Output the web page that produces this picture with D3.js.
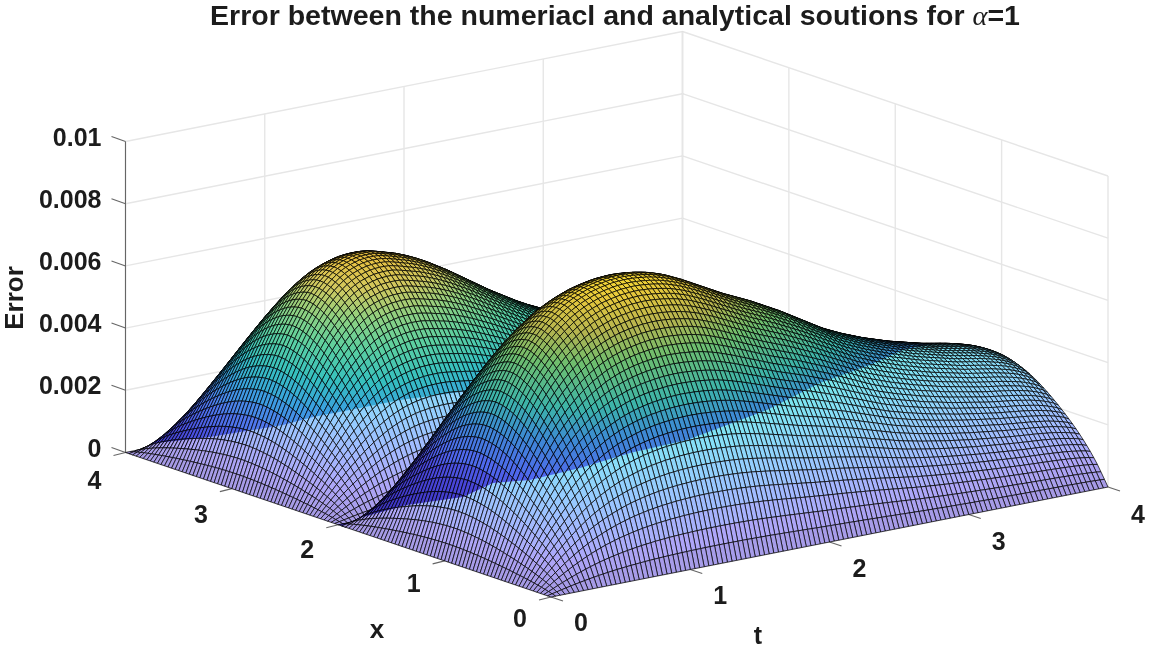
<!DOCTYPE html>
<html>
<head>
<meta charset="utf-8">
<script src="https://cdn.jsdelivr.net/npm/d3@7"></script>
<style>
  html, body { margin: 0; background: #fff; }
  svg { display: block; filter: blur(0.3px); }
  text { font-family: "Liberation Sans", Arial, sans-serif; font-weight: bold; fill: #1c1c1c; }
</style>
</head>
<body>
<svg id="chart" width="1149" height="650"></svg>
<script>
'use strict';

var xTicks = [0, 1, 2, 3, 4]
var tTicks = [0, 1, 2, 3, 4]
var zTicks = [0, 0.002, 0.004, 0.006, 0.008, 0.01]
var zTickLabels = ['0', '0.002', '0.004', '0.006', '0.008', '0.01']

// relative height across one hump, x = 0..2 in steps of 1/30 (the x = 2..4 hump mirrors it)
var humpShape = [
    0, .068, .135, .200, .258, .312, .362, .410, .455, .498, .538, .577, .614, .650, .685, .718,
    .750, .781, .810, .838, .864, .888, .910, .930, .947, .962, .975, .985, .993, .998, 1,
    .998, .993, .985, .975, .962, .947, .930, .910, .888, .864, .838, .810, .781, .750, .718,
    .685, .650, .614, .577, .538, .498, .455, .410, .362, .312, .258, .200, .135, .068, 0
]

// crest height in units of 0.001, t = 0..4 in steps of 1/30
var frontCrest = [
    0, .50, 1.00, 1.50, 1.98, 2.44, 2.88, 3.30, 3.70, 4.08, 4.44, 4.78, 5.10, 5.40, 5.67, 5.92,
    6.15, 6.36, 6.56, 6.74, 6.91, 7.06, 7.20, 7.32, 7.44, 7.54, 7.63, 7.71, 7.78, 7.84, 7.90,
    7.94, 7.98, 8.01, 8.04, 8.06, 8.07, 8.08, 8.08, 8.07, 8.06, 8.04, 8.02, 7.99, 7.96, 7.92,
    7.87, 7.82, 7.76, 7.69, 7.62, 7.55, 7.47, 7.39, 7.31, 7.23, 7.15, 7.07, 6.99, 6.91, 6.83,
    6.76, 6.69, 6.62, 6.55, 6.48, 6.41, 6.33, 6.25, 6.17, 6.09, 6.01, 5.93, 5.84, 5.75, 5.66,
    5.57, 5.48, 5.39, 5.30, 5.21, 5.12, 5.04, 4.97, 4.90, 4.83, 4.76, 4.70, 4.64, 4.58, 4.52,
    4.46, 4.41, 4.36, 4.31, 4.26, 4.21, 4.16, 4.12, 4.08, 4.04, 4.00, 3.96, 3.92, 3.88, 3.84,
    3.81, 3.78, 3.75, 3.72, 3.69, 3.66, 3.62, 3.58, 3.54, 3.49, 3.43, 3.36, 3.28, 3.19, 3.05
]
var backCrest = [
    0, .44, .88, 1.31, 1.73, 2.14, 2.54, 2.92, 3.28, 3.62, 3.96, 4.28, 4.58, 4.86, 5.12, 5.36,
    5.58, 5.78, 5.96, 6.12, 6.26, 6.38, 6.48, 6.56, 6.62, 6.67, 6.71, 6.73, 6.74, 6.74, 6.73,
    6.70, 6.66, 6.62, 6.57, 6.53, 6.48, 6.42, 6.36, 6.29, 6.22, 6.14, 6.06, 5.97, 5.88, 5.79,
    5.70, 5.60, 5.50, 5.40, 5.30, 5.20, 5.10, 5.00, 4.90, 4.80, 4.71, 4.62, 4.53, 4.44, 4.35,
    4.26, 4.18, 4.10, 4.02, 3.95, 3.88, 3.81, 3.74, 3.68, 3.62, 3.56, 3.50, 3.45, 3.40, 3.35,
    3.30, 3.25, 3.21, 3.17, 3.13, 3.09, 3.05, 3.01, 2.98, 2.95, 2.92, 2.89, 2.86, 2.83, 2.80,
    2.77, 2.74, 2.71, 2.68, 2.65, 2.62, 2.59, 2.56, 2.53, 2.50, 2.47, 2.44, 2.41, 2.38, 2.35,
    2.32, 2.29, 2.27, 2.25, 2.23, 2.21, 2.19, 2.17, 2.15, 2.13, 2.11, 2.09, 2.07, 2.05, 2.03
]

var svg = d3.select('#chart')
var cellsPerUnit = 30

// orthographic view: each data axis adds a fixed screen offset
var originX = 551
var originY = 597
var xToScreenX = d3.scaleLinear().domain([0, 4]).range([0, -425.5])
var xToScreenY = d3.scaleLinear().domain([0, 4]).range([0, -144.5])
var tToScreenX = d3.scaleLinear().domain([0, 4]).range([0, 557])
var tToScreenY = d3.scaleLinear().domain([0, 4]).range([0, -110])
var zToScreenY = d3.scaleLinear().domain([0, 0.01]).range([0, -311])

function project(x, t, z) {
    return [
        originX + xToScreenX(x) + tToScreenX(t),
        originY + xToScreenY(x) + tToScreenY(t) + zToScreenY(z)
    ]
}

function heightAt(i, j) {
    var shape = humpShape[i <= 60 ? i : i - 60]
    var crest = i <= 60 ? frontCrest[j] : backCrest[j]
    return shape * crest / 1000
}

var frontDark = d3.scaleLinear()
    .domain([0, 0.0012, 0.0024, 0.003, 0.0041, 0.0049, 0.0061, 0.0069, 0.0077, 0.0082])
    .range(['#3a2fb0', '#4038c8', '#4a48dc', '#4f68ee', '#3c8cd2', '#3cb4aa', '#6ebe6e', '#b4b450', '#e6c83c', '#fadc32'])
var backDark = d3.scaleLinear()
    .domain([0, 0.0011, 0.002, 0.0028, 0.0036, 0.0045, 0.0053, 0.006, 0.0067])
    .range(['#3c2fb4', '#4a50e0', '#4f7aee', '#3aa0e0', '#35c0c0', '#5cd0a0', '#90d080', '#d0c860', '#e8c040'])
var litColor = d3.scaleLinear()
    .domain([0, 0.0008, 0.0016, 0.0025, 0.0035, 0.0048])
    .range(['#a498e2', '#aea6f8', '#a4b8ff', '#96ccff', '#86e0f8', '#6ceae2'])

// where the surface turns from the pale part to the saturated part, one edge per hump
var frontEdgeX = [340, 363, 407, 463, 493, 530, 580, 630, 687, 767, 820, 870, 903, 960, 1010]
var frontEdgeY = [527, 517, 505, 497, 483, 480, 468, 453, 440, 410, 383, 365, 350, 338, 330]
var backEdgeX = [125, 157, 210, 283, 313, 360, 400, 453, 560]
var backEdgeY = [452, 443, 437, 425, 417, 408, 400, 393, 375]
var frontEdge = d3.scaleLinear().domain(frontEdgeX).range(frontEdgeY).clamp(true)
var backEdge = d3.scaleLinear().domain(backEdgeX).range(backEdgeY).clamp(true)

function addClip(id, xs, ys) {
    var ring = xs.map(function(x, k) { return [x, ys[k]] })
    ring.push([1149, ys[ys.length - 1]], [1149, 650], [0, 650], [0, ys[0]])
    svg.append('clipPath').attr('id', id).append('path').attr('d', d3.line().curve(d3.curveLinearClosed)(ring))
}

function buildCells() {
    var cells = []
    var last = 4 * cellsPerUnit
    // far corner first, so nearer cells paint over it
    for (var i = last - 1; i >= 0; i--) {
        for (var j = last - 1; j >= 0; j--) {
            var pts = [[i, j], [i + 1, j], [i + 1, j + 1], [i, j + 1]].map(function(c) {
                return project(c[0] / cellsPerUnit, c[1] / cellsPerUnit, heightAt(c[0], c[1]))
            })
            var z = (heightAt(i, j) + heightAt(i + 1, j) + heightAt(i + 1, j + 1) + heightAt(i, j + 1)) / 4
            var front = i < 60
            var edge = front ? frontEdge : backEdge
            var below = pts.filter(function(p) { return p[1] > edge(p[0]) }).length
            var dark = front ? frontDark(z) : backDark(z)
            var lit = litColor(z)
            if (below === 4) {
                cells.push({ pts: pts, fill: lit })
            } else if (below === 0) {
                cells.push({ pts: pts, fill: dark })
            } else {
                // the edge runs through this cell: dark first, pale copy clipped on top
                cells.push({ pts: pts, fill: dark })
                cells.push({ pts: pts, fill: lit, clip: front ? 'url(#front-lit)' : 'url(#back-lit)' })
            }
        }
    }
    return cells
}

function drawGrid() {
    var g = svg.append('g').attr('fill', 'none').attr('stroke', '#e6e6e6').attr('stroke-width', 1.4)
    function seg(a, b, color) {
        g.append('path')
            .attr('d', d3.line()([a, b]))
            .attr('stroke', color || null)
    }
    zTicks.forEach(function(z) {
        seg(project(4, 0, z), project(4, 4, z))
        seg(project(4, 4, z), project(0, 4, z))
    })
    tTicks.forEach(function(t) {
        seg(project(4, t, 0), project(4, t, 0.01), t === 4 ? '#d2d2d2' : null)
        seg(project(4, t, 0), project(0, t, 0))
    })
    xTicks.forEach(function(x) {
        seg(project(x, 4, 0), project(x, 4, 0.01))
        seg(project(x, 0, 0), project(x, 4, 0))
    })
}

function drawSurface() {
    addClip('front-lit', frontEdgeX, frontEdgeY)
    addClip('back-lit', backEdgeX, backEdgeY)
    var outline = d3.line().curve(d3.curveLinearClosed)
    svg.append('g')
        .attr('stroke', '#000')
        .attr('stroke-width', 0.8)
        .attr('stroke-opacity', 0.9)
        .attr('stroke-linejoin', 'round')
        .selectAll('path')
        .data(buildCells())
        .join('path')
        .attr('d', function(d) { return outline(d.pts) })
        .attr('fill', function(d) { return d.fill })
        .attr('clip-path', function(d) { return d.clip || null })
}

function drawAxes() {
    var g = svg.append('g').attr('fill', 'none').attr('stroke', '#666').attr('stroke-width', 1.1)
    g.append('path').attr('d', d3.line()([project(4, 0, 0), project(4, 0, 0.01)]))

    zTicks.forEach(function(z, k) {
        var p = project(4, 0, z)
        g.append('path').attr('d', d3.line()([p, [p[0] - 14, p[1] - 5]]))
        svg.append('text')
            .attr('x', p[0] - 24)
            .attr('y', p[1] + 4)
            .attr('text-anchor', 'end')
            .attr('font-size', 25)
            .text(zTickLabels[k])
    })
    xTicks.forEach(function(x) {
        var p = project(x, 0, 0)
        g.append('path').attr('d', d3.line()([p, [p[0] - 12, p[1] + 3]]))
        svg.append('text')
            .attr('x', p[0] - 31)
            .attr('y', p[1] + 30 + x * 1.5)
            .attr('text-anchor', 'middle')
            .attr('font-size', 25)
            .text(x)
    })
    tTicks.forEach(function(t) {
        var p = project(0, t, 0)
        g.append('path').attr('d', d3.line()([p, [p[0] + 12, p[1] + 4]]))
        svg.append('text')
            .attr('x', p[0] + 30)
            .attr('y', p[1] + 34 + t * 0.5)
            .attr('text-anchor', 'middle')
            .attr('font-size', 25)
            .text(t)
    })
}

function drawLabels() {
    var title = svg.append('text')
        .attr('x', 210)
        .attr('y', 24.5)
        .attr('font-size', 27)
        .attr('textLength', 810)
        .attr('lengthAdjust', 'spacingAndGlyphs')
    title.append('tspan').text('Error between the numeriacl and analytical soutions for ')
    title.append('tspan')
        .style('font-family', '"Liberation Serif", serif')
        .style('font-style', 'italic')
        .style('font-weight', 'normal')
        .text('\u03b1')
    title.append('tspan').text('=1')

    svg.append('text')
        .attr('transform', 'translate(23,298) rotate(-90)')
        .attr('text-anchor', 'middle')
        .attr('font-size', 26)
        .text('Error')
    svg.append('text').attr('x', 377).attr('y', 638).attr('text-anchor', 'middle').attr('font-size', 26).text('x')
    svg.append('text').attr('x', 758).attr('y', 644).attr('text-anchor', 'middle').attr('font-size', 25).text('t')
}

drawGrid()
drawAxes()
drawSurface()
drawLabels()
</script>
</body>
</html>
